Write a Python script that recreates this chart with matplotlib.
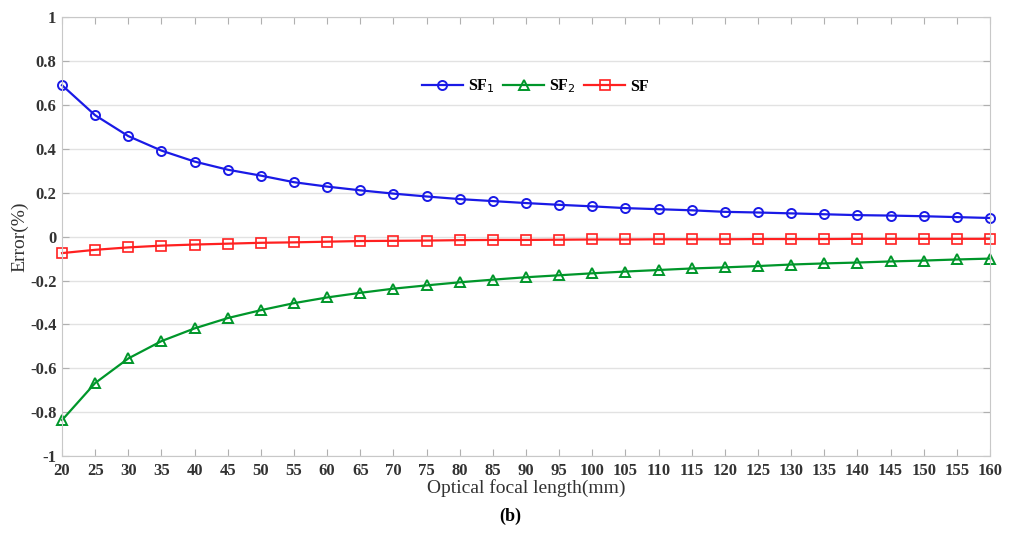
import numpy as np
import matplotlib.pyplot as plt

focal = list(range(20, 165, 5))
sf1 = [0.690, 0.553, 0.458, 0.392, 0.342, 0.305, 0.278, 0.248, 0.228, 0.211,
       0.196, 0.183, 0.171, 0.162, 0.153, 0.145, 0.138, 0.130, 0.125, 0.120,
       0.113, 0.110, 0.106, 0.102, 0.098, 0.096, 0.093, 0.089, 0.085]
sf2 = [-0.836, -0.667, -0.555, -0.476, -0.418, -0.371, -0.335, -0.303, -0.277, -0.256,
       -0.237, -0.222, -0.208, -0.196, -0.185, -0.176, -0.167, -0.159, -0.152, -0.145,
       -0.140, -0.134, -0.127, -0.122, -0.118, -0.113, -0.109, -0.104, -0.100]
sf = [-0.075, -0.060, -0.049, -0.041, -0.036, -0.032, -0.028, -0.026, -0.023, -0.020,
      -0.019, -0.018, -0.016, -0.015, -0.015, -0.014, -0.013, -0.013, -0.012, -0.012,
      -0.012, -0.011, -0.011, -0.011, -0.010, -0.010, -0.010, -0.010, -0.010]

plt.rcParams['font.family'] = ['Liberation Serif', 'DejaVu Serif']

fig = plt.figure(figsize=(10.2, 5.36), dpi=100)
ax = fig.add_axes([0.0608, 0.149, 0.9098, 0.819])

ax.plot(focal, sf1, '-o', color='#1a1ae6', lw=1.6, ms=6.5, mfc='none', mew=1.4,
        label='SF$_1$', clip_on=False)
ax.plot(focal, sf2, '-^', color='#00962a', lw=1.6, ms=7, mfc='none', mew=1.4,
        label='SF$_2$', clip_on=False)
ax.plot(focal, sf, '-s', color='#ff2020', lw=1.6, ms=6.5, mfc='none', mew=1.2,
        label='SF', clip_on=False)

ax.set_xlim(20, 160)
ax.set_ylim(-1, 1)
ax.set_xticks(focal)
ax.set_yticks(np.arange(-1, 1.01, 0.2))
ax.set_yticklabels(['-1', '-0.8', '-0.6', '-0.4', '-0.2', '0',
                    '0.2', '0.4', '0.6', '0.8', '1'])
ax.yaxis.grid(True, color='#e2e2e2', lw=1)
ax.set_axisbelow(True)
for s in ax.spines.values():
    s.set_color('#c8c8c8')
ax.tick_params(direction='in', top=True, right=True, length=5, color='#b0b0b0',
               labelsize=12)
ax.tick_params(axis='x', pad=5)
ax.tick_params(axis='y', pad=4)
for lab in ax.get_xticklabels() + ax.get_yticklabels():
    lab.set_fontweight('bold')
    lab.set_color('#333333')

ax.set_xlabel('Optical focal length(mm)', fontsize=14, labelpad=0, color='#333333')
ax.set_ylabel('Error(%)', fontsize=14, labelpad=1, color='#333333')

leg = ax.legend(loc='upper center', bbox_to_anchor=(0.51, 0.895), ncol=3, frameon=False,
                fontsize=11.5, handlelength=2.6, columnspacing=0.5, handletextpad=0.3)
for t in leg.get_texts():
    t.set_fontweight('bold')

fig.text(0.5, 0.028, '(b)', ha='center', fontsize=13, fontweight='bold')

fig.savefig('out.png', dpi=100)
